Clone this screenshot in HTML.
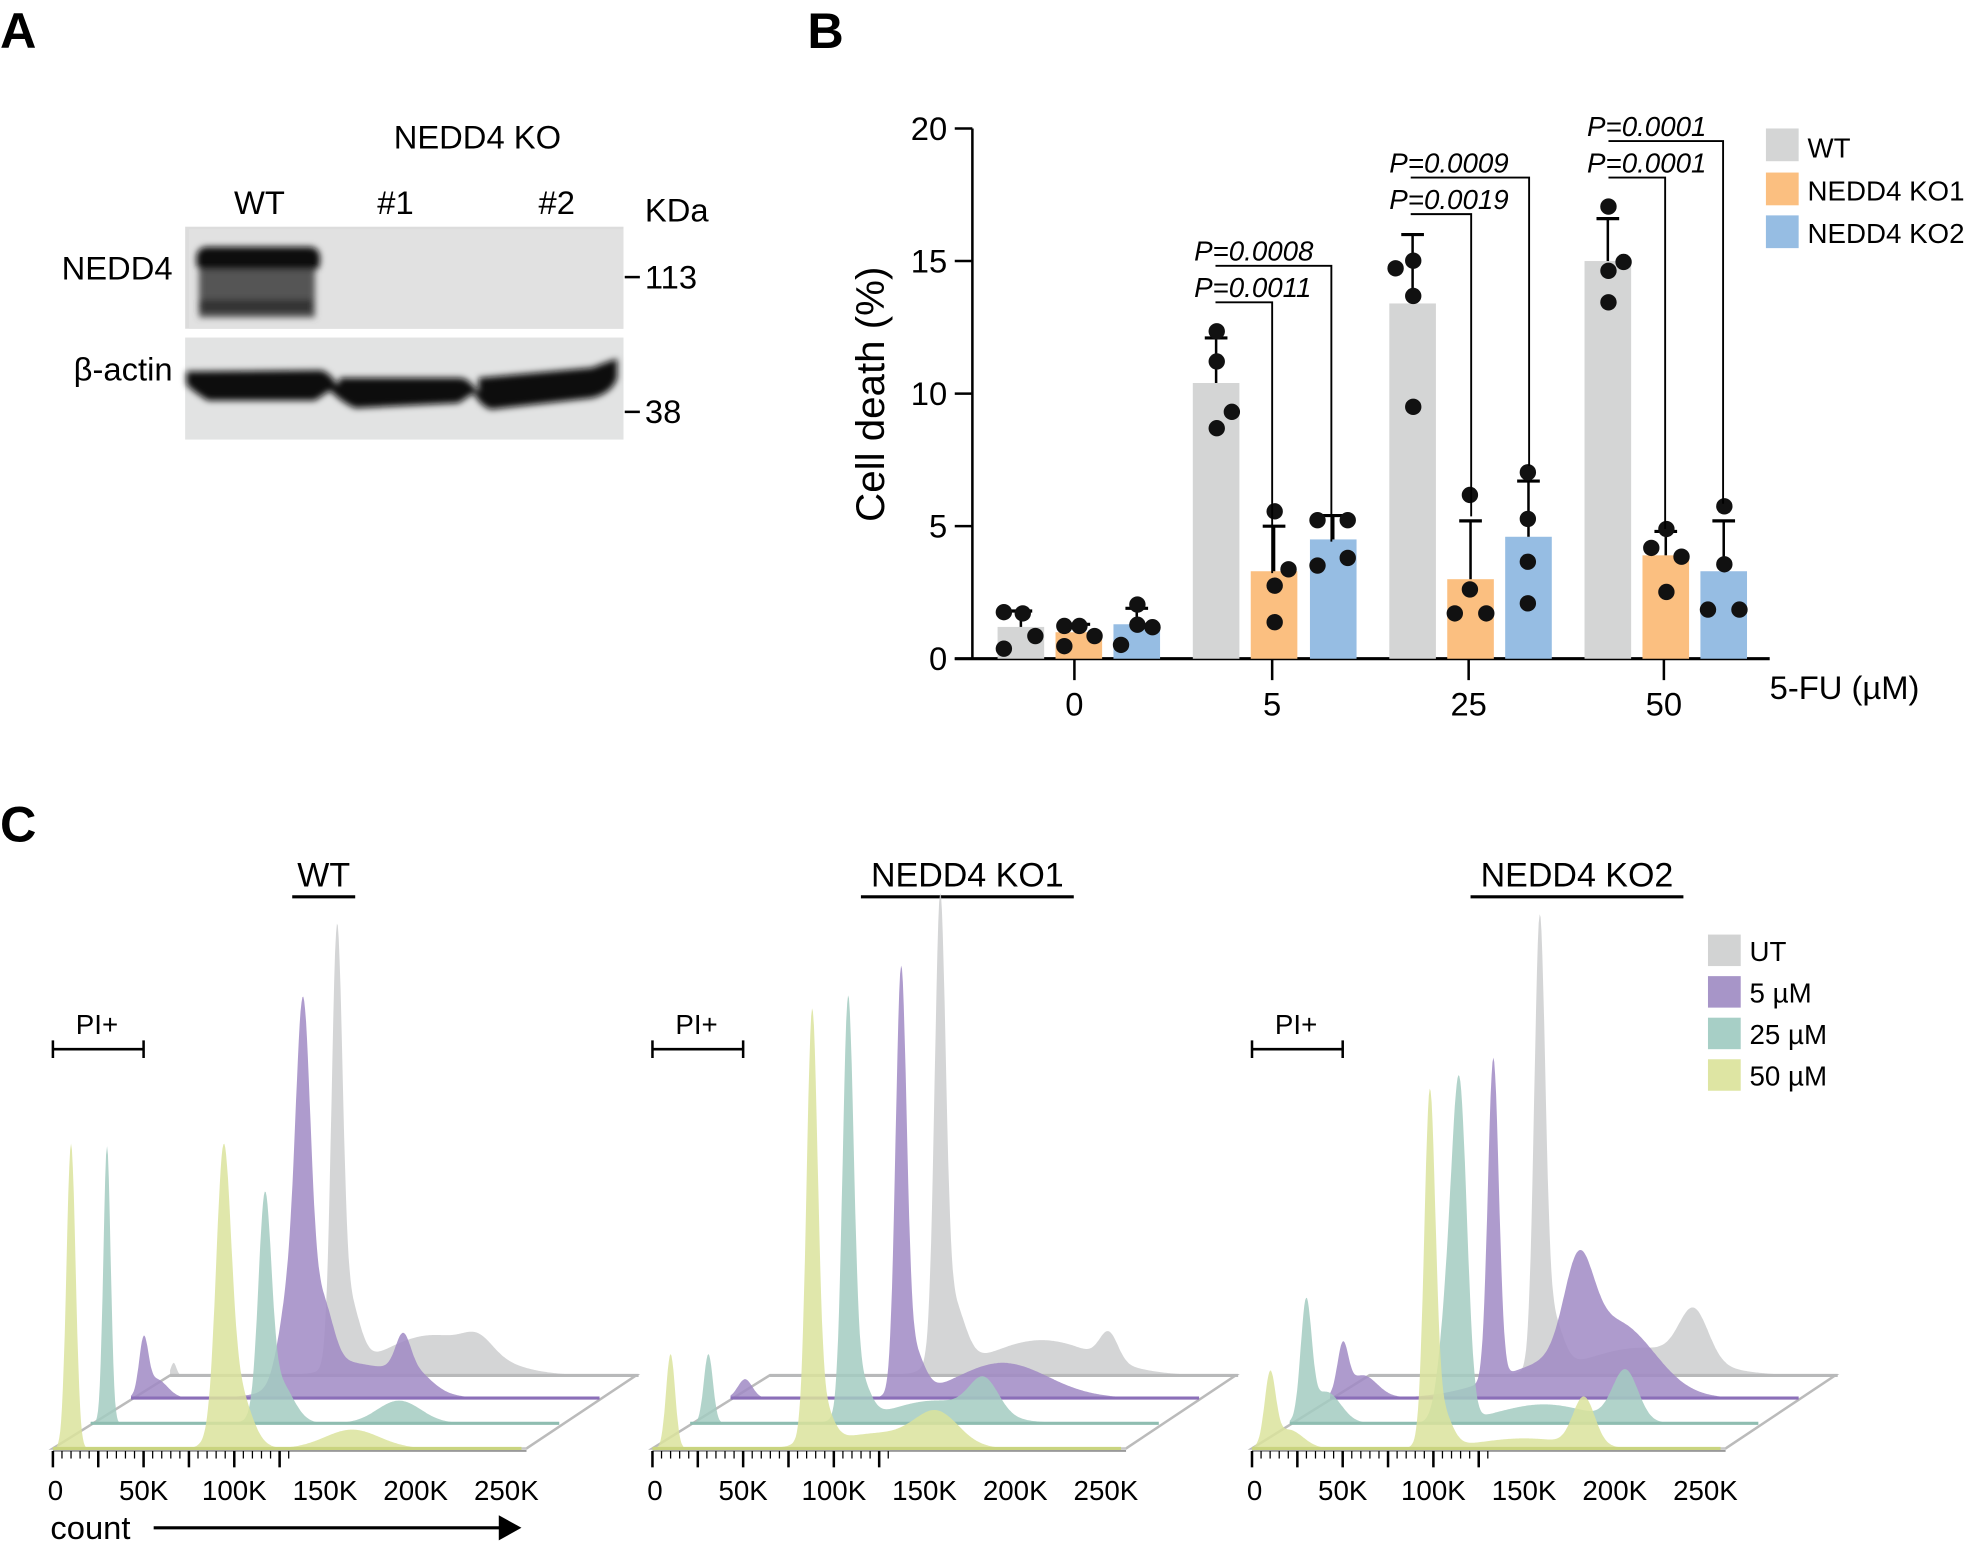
<!DOCTYPE html>
<html><head><meta charset="utf-8"><style>
html,body{margin:0;padding:0;background:#fff}
svg{display:block;font-family:"Liberation Sans",Arial,sans-serif}
</style></head><body>
<svg id="s" width="1975" height="1553" viewBox="0 0 1568 1233" preserveAspectRatio="none" xmlns="http://www.w3.org/2000/svg">
<defs>
<filter id="bl" x="-10%" y="-30%" width="120%" height="160%"><feGaussianBlur stdDeviation="2.5"/></filter>
</defs>
<text x="0" y="38" font-size="40" font-weight="bold">A</text>
<text x="641" y="38" font-size="40" font-weight="bold">B</text>
<text x="0" y="668" font-size="40" font-weight="bold">C</text>

<text x="379" y="118" font-size="26" text-anchor="middle">NEDD4 KO</text>
<text x="206" y="170" font-size="26" text-anchor="middle">WT</text>
<text x="314" y="170" font-size="26" text-anchor="middle">#1</text>
<text x="442" y="170" font-size="26" text-anchor="middle">#2</text>
<text x="512" y="176" font-size="26">KDa</text>
<rect x="147" y="180" width="348" height="81" fill="#dcdcdc"/>
<rect x="150" y="182" width="345" height="79" fill="#e1e1e1"/>
<g filter="url(#bl)">
<rect x="156" y="196" width="98" height="20" rx="8" fill="#0d0d0d"/>
<rect x="158" y="214" width="92" height="38" fill="#555"/>
<rect x="158" y="238" width="90" height="10" fill="#333"/>
</g>
<text x="137" y="222" font-size="26" text-anchor="end">NEDD4</text>
<line x1="496" y1="220" x2="508" y2="220" stroke="#000" stroke-width="2"/>
<text x="512" y="229" font-size="26">113</text>
<rect x="147" y="268" width="348" height="81" fill="#e2e3e3"/>
<g filter="url(#bl)">
<path d="M148,295 L255,294 Q262,296 268,306 L270,300 L365,300 Q372,300 380,312 L380,300 L470,292 Q485,286 490,285 L490,300 Q486,312 470,316 L390,325 Q382,323 376,312 L364,320 L282,324 Q272,320 262,310 L250,318 L165,318 Q152,310 148,305 Z" fill="#080808"/>
</g>
<text x="137" y="302" font-size="26" text-anchor="end">β-actin</text>
<line x1="496" y1="327" x2="508" y2="327" stroke="#000" stroke-width="2"/>
<text x="512" y="336" font-size="26">38</text>

<g id="B"></g>
<text transform="translate(702,313) rotate(-90)" font-size="32" text-anchor="middle">Cell death (%)</text>
<text x="1405" y="555" font-size="26">5-FU (µM)</text>
<rect x="1402" y="102" width="26" height="26" fill="#d4d5d5"/>
<rect x="1402" y="137" width="26" height="26" fill="#fbbf80"/>
<rect x="1402" y="171" width="26" height="26" fill="#96bde3"/>
<text x="1435" y="125" font-size="22">WT</text>
<text x="1435" y="159" font-size="22">NEDD4 KO1</text>
<text x="1435" y="193" font-size="22">NEDD4 KO2</text>

<g id="C"></g>
<rect x="1356" y="742" width="26" height="25" fill="#d2d3d3"/>
<rect x="1356" y="775" width="26" height="25" fill="#a795c8"/>
<rect x="1356" y="808" width="26" height="25" fill="#a7cfc6"/>
<rect x="1356" y="841" width="26" height="25" fill="#dee5a3"/>
<text x="1389" y="763" font-size="22">UT</text>
<text x="1389" y="796" font-size="22">5 µM</text>
<text x="1389" y="829" font-size="22">25 µM</text>
<text x="1389" y="862" font-size="22">50 µM</text>
<text x="40" y="1222" font-size="26">count</text>
<line x1="122" y1="1213" x2="398" y2="1213" stroke="#000" stroke-width="2.5"/>
<path d="M396,1203 L414,1213 L396,1223 Z" fill="#000"/>
</svg>
<script>
var NS="http://www.w3.org/2000/svg";
function el(p,t,a,txt){var e=document.createElementNS(NS,t);for(var k in a)e.setAttribute(k,a[k]);if(txt!==undefined)e.textContent=txt;p.appendChild(e);return e;}
var B=document.getElementById("B");
function Y(v){return 523-v*21.05;}
el(B,"line",{x1:772,y1:102,x2:772,y2:523,stroke:"#000","stroke-width":2});
el(B,"line",{x1:758,y1:523,x2:1405,y2:523,stroke:"#000","stroke-width":2.5});
[0,5,10,15,20].forEach(function(v){el(B,"line",{x1:758,y1:Y(v),x2:772,y2:Y(v),stroke:"#000","stroke-width":2});el(B,"text",{x:752,y:Y(v)+9,"font-size":26,"text-anchor":"end"},v);});
[[853,"0"],[1010,"5"],[1166,"25"],[1321,"50"]].forEach(function(g){el(B,"line",{x1:g[0],y1:523,x2:g[0],y2:540,stroke:"#000","stroke-width":2});el(B,"text",{x:g[0],y:568,"font-size":26,"text-anchor":"middle"},g[1]);});
var cols=["#d4d5d5","#fbbf80","#96bde3"];
var bars=[[792,1.2,1.8],[838,1.0,1.3],[884,1.3,1.9],[947,10.4,12.1],[993,3.3,5.0],[1040,4.5,5.4],[1103,13.4,16.0],[1149,3.0,5.2],[1195,4.6,6.7],[1258,15.0,16.6],[1304,3.9,4.8],[1350,3.3,5.2]];
bars.forEach(function(b,i){el(B,"rect",{x:b[0],y:Y(b[1]),width:37,height:523-Y(b[1]),fill:cols[i%3]});
var cx=b[0]+18.5;el(B,"line",{x1:cx,y1:Y(b[1]),x2:cx,y2:Y(b[2]),stroke:"#000","stroke-width":2});el(B,"line",{x1:cx-9,y1:Y(b[2]),x2:cx+9,y2:Y(b[2]),stroke:"#000","stroke-width":2.5});});
var dots=[[797,486],[822,505],[797,515],[812,487],[845,497],[857,497],[869,505],[845,513],[903,480],[890,512],[915,498],[903,496],
[966,263],[966,287],[978,327],[966,340],[1012,406],[1023,452],[1012,465],[1012,494],[1046,413],[1070,413],[1046,449],[1070,443],
[1108,213],[1122,207],[1122,235],[1122,323],[1167,393],[1167,468],[1155,487],[1180,487],[1213,375],[1213,412],[1213,446],[1213,479],
[1277,164],[1289,208],[1277,215],[1277,240],[1311,435],[1335,442],[1323,420],[1323,470],[1369,402],[1369,448],[1356,484],[1381,484]];
dots.forEach(function(d){el(B,"circle",{cx:d[0],cy:d[1],r:6.5,fill:"#111"});});
var sig=[[965,1057,211,430,"P=0.0008"],[965,1010,240,455,"P=0.0011"],[1120,1214,141,370,"P=0.0009"],[1120,1168,170,410,"P=0.0019"],[1277,1368,112,400,"P=0.0001"],[1277,1322,141,420,"P=0.0001"]];
sig.forEach(function(s){el(B,"path",{d:"M"+s[0]+","+s[2]+" L"+s[1]+","+s[2]+" L"+s[1]+","+s[3],fill:"none",stroke:"#000","stroke-width":1.5});
el(B,"text",{x:s[0]-17,y:s[2]-4,"font-size":22,"font-style":"italic"},s[4]);});
var C=document.getElementById("C");
var layers=[{c:"#cdcecf",lc:"#b8b9ba",dx:93,base:1092,len:505-135},{c:"#a089c4",lc:"#8b6fb8",dx:62,base:1110,len:475-105},{c:"#a3cbc1",lc:"#8fbdb1",dx:30,base:1130,len:445-75},{c:"#dbe39c",lc:"#c9d47f",dx:0,base:1150,len:418-42}];
var panels=[{x0:42,title:"WT",tx:257,tw:46,sp:[
[[2,1.5,10],[92,3,320],[98,6,55],[145,28,32],[170,8,12]],
[[7,2.5,42],[14,6,15],[95,4,250],[88,6,75],[105,6,55],[120,25,28],[150,4,25],[155,10,15]],
[[9,2,220],[96,3.5,160],[103,8,35],[170,12,18]],
[[10,2.5,242],[94,4,200],[100,8,55],[165,15,15]]]},
{x0:518,title:"NEDD4 KO1",tx:768,tw:165,sp:[
[[94,3,340],[100,7,55],[150,30,28],[187,5,22]],
[[8,4,15],[94,3,318],[100,6,38],[150,25,28]],
[[10,2.5,55],[87,3,310],[92,6,38],[162,8,27],[135,25,18]],
[[10,2.5,75],[88,3,315],[92,6,38],[157,12,25],[125,25,12]]]},
{x0:994,title:"NEDD4 KO2",tx:1252,tw:165,sp:[
[[94,3,335],[100,6,45],[179,8,40],[150,30,22]],
[[7,3,38],[18,8,18],[90,3,255],[137,8,70],[160,20,50],[120,30,25]],
[[9,3,90],[20,8,25],[94,4,220],[88,5,100],[185,7,40],[140,25,15]],
[[10,3,55],[20,8,15],[98,3,260],[103,6,35],[183,6,38],[150,25,8]]]}];
panels.forEach(function(P){
 var x0=P.x0;
 el(C,"text",{x:P.tx,y:704,"font-size":27,"text-anchor":"middle"},P.title);
 el(C,"line",{x1:P.tx-P.tw/2-2,y1:712,x2:P.tx+P.tw/2+2,y2:712,stroke:"#000","stroke-width":2.5});
 el(C,"text",{x:x0+35,y:821,"font-size":22,"text-anchor":"middle"},"PI+");
 el(C,"path",{d:"M"+x0+",826 L"+x0+",840 M"+x0+",833 L"+(x0+72)+",833 M"+(x0+72)+",826 L"+(x0+72)+",840",stroke:"#000","stroke-width":2,fill:"none"});
 el(C,"path",{d:"M"+x0+",1150 L"+(x0+93)+",1092 L"+(x0+463)+",1092 L"+(x0+376)+",1150 Z",fill:"none",stroke:"#bbb","stroke-width":2});
 layers.forEach(function(L,i){
  var base=L.base, dx=L.dx, comps=P.sp[i];
  el(C,"line",{x1:x0+dx,y1:base,x2:x0+dx+L.len,y2:base,stroke:"#c8c8c8","stroke-width":1.5});
  var d="M"+(x0+dx)+","+base;
  for(var v=0;v<=258;v+=0.5){var h=0;comps.forEach(function(c){h+=c[2]*Math.exp(-0.5*Math.pow((v-c[0])/c[1],2));});
   if(v>250)h*=Math.max(0,(258-v)/8);
   d+=" L"+(x0+dx+v*1.44).toFixed(1)+","+(base-h).toFixed(1);}
  d+=" Z";
  el(C,"path",{d:d,fill:L.c,"fill-opacity":0.85,stroke:"none"});
  el(C,"line",{x1:x0+dx,y1:base,x2:x0+dx+372,y2:base,stroke:L.lc,"stroke-width":2.5});
 });
 el(C,"line",{x1:x0,y1:1152,x2:x0+376,y2:1152,stroke:"#999","stroke-width":1.5});
 for(var k=0;k<=26;k++){var xx=x0+k*7.2;var major=(k%5==0);el(C,"line",{x1:xx,y1:1152,x2:xx,y2:major?1165:1158,stroke:"#000","stroke-width":major?2:1});}
 ["0","50K","100K","150K","200K","250K"].forEach(function(t,j){el(C,"text",{x:x0+j*72+(j==0?2:0),y:1191,"font-size":22,"text-anchor":"middle"},t);});
});
</script>
</body></html>
